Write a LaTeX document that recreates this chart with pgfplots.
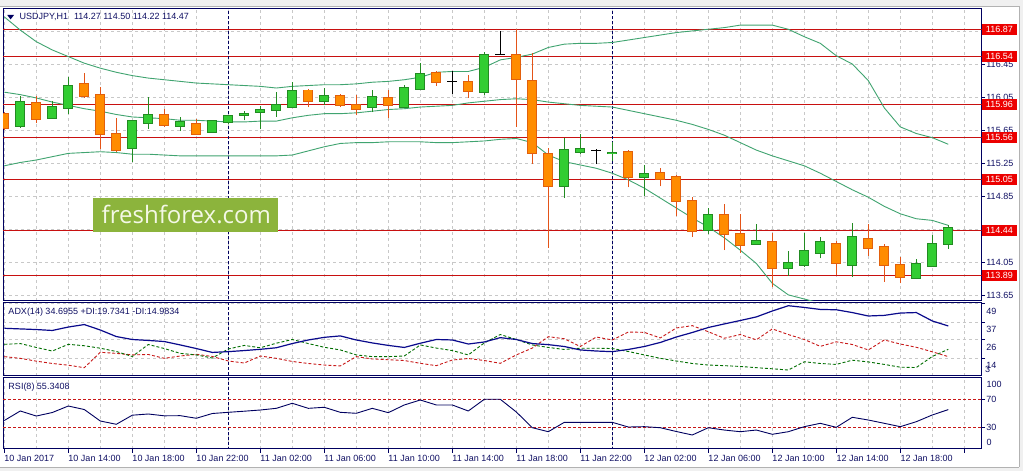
\documentclass[border=0pt]{standalone}
\usepackage{fontspec}
\setmainfont{Liberation Sans}
\newfontfamily\wmfont{Open Sans}
\usepackage{pgfplots}
\usepackage{pgfplotstable}
\pgfplotsset{compat=1.18}

\definecolor{navyc}{RGB}{0,0,96}
\definecolor{txtc}{RGB}{16,16,100}
\definecolor{gridc}{RGB}{200,200,200}
\definecolor{levred}{RGB}{200,16,16}
\definecolor{boxred}{RGB}{236,0,0}
\definecolor{bandc}{RGB}{64,164,112}
\definecolor{bullfill}{RGB}{50,205,50}
\definecolor{bullbord}{RGB}{34,139,34}
\definecolor{bearfill}{RGB}{255,140,0}
\definecolor{bearbord}{RGB}{226,96,12}
\definecolor{bearwick}{RGB}{228,84,24}
\definecolor{adxc}{RGB}{10,10,140}
\definecolor{pdic}{RGB}{0,110,0}
\definecolor{mdic}{RGB}{200,24,24}
\definecolor{wmbg}{RGB}{140,180,60}
\definecolor{wmtx}{RGB}{244,248,230}
\definecolor{chrome}{RGB}{240,240,240}

\newcommand\tickfont{\fontsize{9bp}{10bp}\selectfont}

% bullish candles: i open high low close
\pgfplotstableread{
i o h l c
1 115.70 116.06 115.68 115.99
3 115.80 116.00 115.79 115.93
4 115.92 116.29 115.84 116.19
8 115.43 115.77 115.26 115.76
9 115.74 116.05 115.67 115.83
11 115.70 115.81 115.64 115.75
13 115.63 115.77 115.62 115.76
14 115.75 115.83 115.72 115.82
15 115.83 115.88 115.77 115.85
16 115.87 115.94 115.66 115.90
17 115.89 116.11 115.81 115.95
18 115.93 116.23 115.93 116.12
20 116.00 116.16 115.95 116.06
23 115.93 116.14 115.87 116.05
25 115.93 116.20 115.93 116.16
26 116.15 116.46 116.13 116.33
30 116.11 116.59 116.08 116.56
35 114.97 115.55 114.83 115.41
36 115.39 115.61 115.36 115.42
38 115.37 115.51 115.28 115.38
40 115.08 115.23 114.86 115.12
44 114.44 114.71 114.39 114.63
47 114.27 114.52 114.27 114.31
49 113.98 114.19 113.89 114.04
50 114.02 114.41 114.00 114.19
51 114.17 114.36 114.10 114.30
53 114.02 114.53 113.88 114.36
57 113.86 114.09 113.85 114.03
58 114.01 114.38 114.01 114.28
59 114.27 114.50 114.22 114.47
}\bull

% bearish candles
\pgfplotstableread{
i o h l c
0 115.85 115.87 115.65 115.68
2 115.98 116.06 115.74 115.79
5 116.21 116.34 116.04 116.06
6 116.07 116.17 115.42 115.60
7 115.61 115.80 115.39 115.41
10 115.83 115.91 115.69 115.71
12 115.73 115.79 115.60 115.61
19 116.13 116.15 115.93 116.00
21 116.06 116.09 115.93 115.95
22 115.95 116.08 115.83 115.91
24 116.04 116.14 115.80 115.95
27 116.34 116.36 116.19 116.23
29 116.23 116.32 116.04 116.12
32 116.56 116.87 115.69 116.27
33 116.25 116.58 115.24 115.37
34 115.36 115.44 114.23 114.98
39 115.39 115.41 114.96 115.09
41 115.13 115.19 114.97 115.06
42 115.08 115.11 114.61 114.79
43 114.80 114.84 114.36 114.43
45 114.62 114.76 114.20 114.40
46 114.39 114.64 114.17 114.26
48 114.30 114.41 113.75 113.99
52 114.28 114.31 113.90 114.04
54 114.34 114.52 114.13 114.23
55 114.24 114.28 113.82 114.02
56 114.02 114.12 113.80 113.87
}\bear

% doji candles
\pgfplotstableread{
i o h l c
28 116.24 116.37 116.09 116.24
31 116.57 116.85 116.56 116.57
37 115.41 115.42 115.24 115.41
}\doji

% Bollinger bands
\pgfplotstableread{
i up mid lo
0 117.02 116.11 115.22
1 116.86 116.08 115.26
2 116.72 116.04 115.29
3 116.62 115.99 115.33
4 116.54 115.95 115.37
5 116.46 115.91 115.38
6 116.40 115.88 115.39
7 116.35 115.84 115.38
8 116.31 115.81 115.36
9 116.28 115.80 115.36
10 116.26 115.79 115.35
11 116.24 115.77 115.34
12 116.22 115.77 115.34
13 116.21 115.76 115.34
14 116.20 115.75 115.34
15 116.19 115.75 115.34
16 116.18 115.76 115.34
17 116.16 115.76 115.34
18 116.18 115.80 115.35
19 116.19 115.83 115.40
20 116.20 115.85 115.45
21 116.20 115.85 115.49
22 116.21 115.86 115.50
23 116.23 115.88 115.50
24 116.24 115.90 115.51
25 116.26 115.91 115.51
26 116.29 115.93 115.51
27 116.35 115.94 115.50
28 116.36 115.95 115.50
29 116.36 115.98 115.51
30 116.41 116.00 115.52
31 116.50 116.02 115.54
32 116.53 116.03 115.55
33 116.57 116.02 115.50
34 116.65 115.99 115.35
35 116.69 115.97 115.27
36 116.70 115.95 115.23
37 116.70 115.94 115.19
38 116.71 115.93 115.13
39 116.74 115.89 115.05
40 116.77 115.85 114.95
41 116.80 115.81 114.83
42 116.83 115.77 114.71
43 116.85 115.72 114.59
44 116.87 115.66 114.48
45 116.89 115.59 114.35
46 116.92 115.50 114.20
47 116.92 115.41 114.04
48 116.92 115.34 113.80
49 116.87 115.28 113.66
50 116.78 115.22 113.61
51 116.70 115.13 113.56
52 116.55 115.03 113.52
53 116.45 114.93 113.50
54 116.25 114.84 113.47
55 115.92 114.73 113.45
56 115.69 114.64 113.44
57 115.61 114.58 113.45
58 115.56 114.56 113.47
59 115.48 114.50 113.52
}\bands

% ADX(14), +DI, -DI
\pgfplotstableread{
i adx pdi mdi
0 33.2 22.9 15.0
1 32.8 23.4 13.9
2 32.4 20.9 12.1
3 31.8 18.6 10.6
4 34.0 22.9 9.5
5 35.6 22.0 7.9
6 32.1 20.4 17.8
7 27.9 18.3 17.1
8 26.0 15.1 16.1
9 25.4 22.8 16.4
10 24.7 20.2 13.9
11 22.5 17.1 15.4
12 20.2 16.1 16.5
13 17.7 14.1 15.1
14 18.2 19.9 12.2
15 18.9 22.2 10.9
16 19.7 20.7 15.4
17 20.7 23.6 13.9
18 23.4 26.0 11.9
19 25.7 23.4 10.6
20 27.4 21.0 9.6
21 28.3 19.3 9.0
22 25.7 16.1 15.0
23 23.8 15.0 13.5
24 22.2 15.0 13.0
25 20.9 15.4 12.5
26 23.6 22.5 10.7
27 26.0 20.5 9.2
28 25.7 18.9 12.8
29 23.1 16.1 13.8
30 24.4 23.8 12.5
31 27.2 29.2 10.7
32 26.0 26.0 16.1
33 23.4 22.5 20.5
34 22.7 20.9 27.8
35 21.5 19.6 26.5
36 19.3 20.4 21.5
37 18.6 20.4 27.6
38 18.2 20.2 25.7
39 19.6 18.3 30.8
40 21.5 16.1 30.6
41 24.1 13.9 27.0
42 27.6 12.2 33.4
43 30.5 10.6 34.9
44 33.7 9.6 31.0
45 36.0 9.2 26.8
46 38.2 8.7 29.2
47 40.5 7.9 25.8
48 44.3 7.2 32.8
49 47.7 6.4 29.2
50 46.6 11.7 26.0
51 45.3 10.6 21.6
52 45.1 10.0 24.5
53 43.3 12.7 22.8
54 41.1 11.6 19.3
55 41.5 10.0 25.7
56 43.0 8.2 23.1
57 43.3 8.0 21.0
58 37.9 15.1 18.1
59 34.7 19.7 15.0
}\adxtab

% RSI(8)
\pgfplotstableread{
i rsi
0 39.7
1 53.3
2 46.1
3 51.1
4 60.4
5 55.4
6 39.0
7 34.3
8 47.3
9 49.0
10 46.4
11 46.6
12 42.9
13 49.7
14 51.4
15 53.0
16 54.7
17 57.1
18 64.3
19 57.1
20 58.6
21 51.4
22 50.0
23 57.1
24 50.9
25 61.9
26 69.0
27 61.9
28 61.9
29 53.3
30 70.0
31 70.0
32 51.9
33 29.4
34 23.7
35 37.1
36 37.1
37 37.1
38 37.1
39 30.4
40 30.9
41 29.4
42 24.0
43 19.0
44 29.4
45 26.1
46 23.7
47 26.1
48 20.0
49 23.7
50 30.9
51 35.7
52 30.0
53 44.3
54 40.4
55 35.7
56 30.9
57 38.0
58 47.6
59 55.3
}\rsitab

\pgfplotsset{
  panel/.style={
    scale only axis, width=978.7bp,
    xmin=-0.081, xmax=61.088,
    axis line style={draw=navyc, line width=1bp},
    xtick={0,4,...,60}, minor xtick={2,6,...,58},
    xmajorgrids, xminorgrids,
    major grid style={draw=gridc, dash pattern=on 3bp off 3bp, line width=0.8bp},
    minor grid style={draw=gridc, dash pattern=on 3bp off 3bp, line width=0.8bp},
    ytick pos=right, yticklabel pos=right,
    tick align=outside,
    tick style={draw=navyc, line width=0.8bp},
    major tick length=3.5bp, minor tick length=0bp,
    tick label style={font=\tickfont, text=txtc},
    yticklabel style={anchor=west, inner xsep=1bp},
    /pgf/number format/assume math mode=true,
  },
  cdl/.style 2 args={draw=none, mark=none, forget plot,
    error bars/.cd, y dir=both, y explicit, error mark=none,
    error bar style={draw=#1, solid, line width=#2}},
  sep/.style={draw=navyc, line width=0.9bp, dash pattern=on 3bp off 2bp, forget plot},
}

\begin{document}
\begin{tikzpicture}[x=1bp,y=1bp]
\fill[white] (0bp,0bp) rectangle (1023bp,471bp);
\fill[chrome] (0bp,465bp) rectangle (1023bp,471bp);
\draw[gray!60, line width=0.8bp] (0bp,465bp) -- (1023bp,465bp);
\fill[chrome] (1019bp,0bp) rectangle (1023bp,471bp);
\draw[gray!60, line width=0.8bp] (1019bp,4bp) -- (1019bp,465bp);
\fill[chrome] (0bp,0bp) rectangle (1023bp,4bp);
\draw[gray!60, line width=0.8bp] (0bp,4bp) -- (1019bp,4bp);

% ---------------- main price panel ----------------
\begin{axis}[panel, at={(3bp,170bp)}, anchor=south west, height=292bp,
  ymin=113.586, ymax=117.115,
  ytick={113.65,114.05,114.45,114.85,115.25,115.65,116.05,116.45,116.85},
  yticklabels={113.65,114.05,{},114.85,115.25,115.65,116.05,116.45,{}},
  ymajorgrids,
  xticklabels={}, xtick style={draw=none},
  extra y ticks={116.87,116.54,115.96,115.56,115.05,114.44,113.89},
  extra y tick labels={116.87,116.54,115.96,115.56,115.05,114.44,113.89},
  extra y tick style={grid=none, major tick length=0bp,
    yticklabel style={fill=boxred, text=white, minimum width=35bp,
      minimum height=11bp, inner xsep=0bp, inner ysep=0bp, align=center}},
]
\pgfplotsinvokeforeach{116.87,116.54,115.96,115.56,115.05,114.44,113.89}{
  \addplot[draw=levred, line width=1.2bp, forget plot] coordinates {(-1,#1) (62,#1)};
}
\addplot[sep] coordinates {(14,113) (14,118)};
\addplot[sep] coordinates {(38,113) (38,118)};
\addplot[draw=bandc, line width=0.9bp, forget plot] table[x=i,y=up]{\bands};
\addplot[draw=bandc, line width=0.9bp, forget plot] table[x=i,y=mid]{\bands};
\addplot[draw=bandc, line width=0.9bp, forget plot] table[x=i,y=lo]{\bands};
% wicks
\addplot[cdl={bullbord}{1bp}] table[x=i, y=l, y error plus expr=\thisrow{h}-\thisrow{l}, y error minus expr=0]{\bull};
\addplot[cdl={bearwick}{1bp}] table[x=i, y=l, y error plus expr=\thisrow{h}-\thisrow{l}, y error minus expr=0]{\bear};
\addplot[cdl={black}{1bp}] table[x=i, y=l, y error plus expr=\thisrow{h}-\thisrow{l}, y error minus expr=0]{\doji};
% bodies
\addplot[cdl={bullbord}{10bp}] table[x=i, y=o, y error plus expr=\thisrow{c}-\thisrow{o}+0.012, y error minus expr=0.012]{\bull};
\addplot[cdl={bullfill}{8bp}] table[x=i, y=o, y error plus expr=\thisrow{c}-\thisrow{o}, y error minus expr=0]{\bull};
\addplot[cdl={bearbord}{10bp}] table[x=i, y=c, y error plus expr=\thisrow{o}-\thisrow{c}+0.012, y error minus expr=0.012]{\bear};
\addplot[cdl={bearfill}{8bp}] table[x=i, y=c, y error plus expr=\thisrow{o}-\thisrow{c}, y error minus expr=0]{\bear};
\addplot[cdl={black}{10bp}] table[x=i, y=o, y error plus expr=0.005, y error minus expr=0.005]{\doji};
\end{axis}

% ---------------- ADX panel ----------------
\begin{axis}[panel, at={(3bp,95bp)}, anchor=south west, height=73.3bp,
  ymin=2.56, ymax=49.64,
  ytick={14,26,37,49}, yticklabels={14,26,37,49},
  ymajorgrids, yticklabel style={yshift=-7.5bp},
  xticklabels={}, xtick style={draw=none},
]
\addplot[sep] coordinates {(14,0) (14,60)};
\addplot[sep] coordinates {(38,0) (38,60)};
\addplot[draw=mdic, line width=0.9bp, dash pattern=on 3bp off 2bp] table[x=i,y=mdi]{\adxtab};
\addplot[draw=pdic, line width=0.9bp, dash pattern=on 3bp off 2bp] table[x=i,y=pdi]{\adxtab};
\addplot[draw=adxc, line width=1.2bp] table[x=i,y=adx]{\adxtab};
\end{axis}

% ---------------- RSI panel ----------------
\begin{axis}[panel, at={(3bp,22bp)}, anchor=south west, height=71bp,
  ymin=-1, ymax=100.43,
  ytick={30,70}, yticklabels={30,70},
  xtick pos=bottom,
  xticklabels={10 Jan 2017,10 Jan 14:00,10 Jan 18:00,10 Jan 22:00,11 Jan 02:00,11 Jan 06:00,11 Jan 10:00,11 Jan 14:00,11 Jan 18:00,11 Jan 22:00,12 Jan 02:00,12 Jan 06:00,12 Jan 10:00,12 Jan 14:00,12 Jan 18:00,{}},
  xticklabel style={anchor=north west, inner xsep=0bp, inner ysep=1bp, yshift=-1.5bp},
]
\addplot[sep] coordinates {(14,-10) (14,110)};
\addplot[sep] coordinates {(38,-10) (38,110)};
\addplot[draw=mdic, line width=0.9bp, dash pattern=on 3bp off 2bp] coordinates {(-1,70) (62,70)};
\addplot[draw=mdic, line width=0.9bp, dash pattern=on 3bp off 2bp] coordinates {(-1,30) (62,30)};
\addplot[draw=navyc, line width=0.9bp] table[x=i,y=rsi]{\rsitab};
\end{axis}

% ---------------- texts ----------------
\fill[navyc] (7.3bp,456bp) -- (14bp,456bp) -- (10.6bp,451.6bp) -- cycle;
\node[anchor=west, inner sep=0, font=\tickfont, text=txtc] at (19.5bp,453.7bp) {USDJPY,H1\hspace{6bp}114.27 114.50 114.22 114.47};
\node[anchor=west, inner sep=0, font=\tickfont, text=txtc] at (8.3bp,159.3bp) {ADX(14) 34.6955 +DI:19.7341 -DI:14.9834};
\node[anchor=west, inner sep=0, font=\tickfont, text=txtc] at (8.3bp,84.3bp) {RSI(8) 55.3408};
\node[anchor=west, inner sep=0, font=\tickfont, text=txtc] at (985bp,102bp) {3};
\node[anchor=west, inner sep=0, font=\tickfont, text=txtc] at (986.5bp,86.5bp) {100};
\node[anchor=west, inner sep=0, font=\tickfont, text=txtc] at (986.5bp,29bp) {0};

% watermark
\fill[wmbg] (93.3bp,239.3bp) rectangle (278.3bp,272.7bp);
\node[anchor=base, inner sep=0, font={\wmfont\fontsize{24bp}{26bp}\selectfont}, text=wmtx] at (186.3bp,247.7bp) {freshforex.com};

\pgfresetboundingbox
\useasboundingbox (0bp,0bp) rectangle (1023bp,471bp);
\end{tikzpicture}
\end{document}
